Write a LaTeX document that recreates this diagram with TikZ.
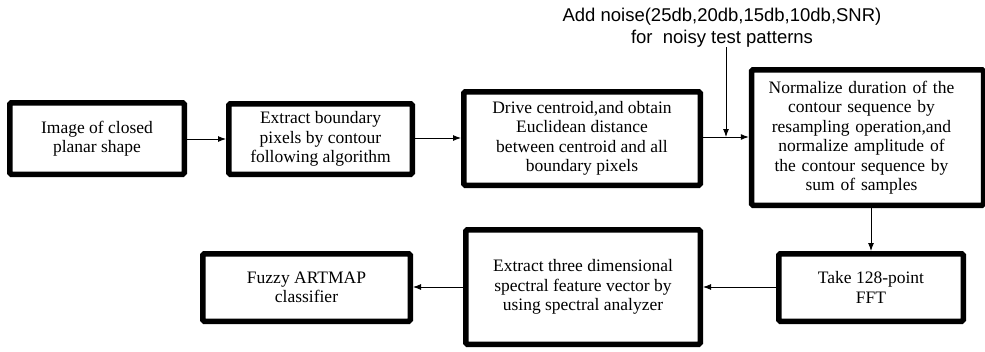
\documentclass[tikz,border=0pt]{standalone}
\usepackage{fontspec}
\setmainfont{Liberation Serif}
\newfontfamily\noisefont{Liberation Sans}
\usetikzlibrary{arrows.meta}
\begin{document}
\begin{tikzpicture}[x=1pt,y=-1pt,
  blockbox/.style={draw, line width=5.5pt, rounded corners=1.5pt, align=center,
    inner sep=0pt, font=\fontsize{17.5}{19.5}\selectfont},
  arr/.style={line width=0.9pt, -{Latex[length=8pt,width=6pt]}}]
\useasboundingbox (0,0) rectangle (985,351);
\node[blockbox, minimum width=174.5pt, minimum height=71.5pt] (b1) at (97,138.5) {Image of closed\\planar shape};
\node[blockbox, minimum width=183.5pt, minimum height=70.5pt] (b2) at (320.5,139) {Extract boundary\\pixels by contour\\following algorithm};
\node[blockbox, minimum width=236.5pt, minimum height=93.5pt] (b3) at (582,138.5) {Drive centroid,and obtain\\Euclidean distance\\between centroid and all\\boundary pixels};
\node[blockbox, minimum width=232pt, minimum height=135.5pt, text width=220pt] (b4) at (867.5,137.5) {\hspace*{-12pt}Normalize duration of the\\\hspace*{-12pt}contour sequence by\\\hspace*{-12pt}resampling operation,and\\\hspace*{-12pt}normalize amplitude of\\\hspace*{-12pt}the contour sequence by\\\hspace*{-12pt}sum of samples};
\node[blockbox, minimum width=184.5pt, minimum height=67.5pt] (b7) at (871,287.5) {Take 128-point\\FFT};
\node[blockbox, minimum width=234.5pt, minimum height=114.5pt] (b6) at (583,287) {Extract three dimensional\\spectral feature vector by\\using spectral analyzer};
\node[blockbox, minimum width=207.5pt, minimum height=67.5pt] (b5) at (306.5,287.5) {Fuzzy ARTMAP\\classifier};
\node[align=center, inner sep=0pt, font=\noisefont\fontsize{18.5}{22}\selectfont] (noise) at (722,28) {Add noise(25db,20db,15db,10db,SNR)\\for\ \ noisy test patterns};
\coordinate (nztop) at (726,47);
\coordinate (nz) at (726,137);
\draw[arr] (b1.east |- 0,139) -- (b2.west |- 0,139);
\draw[arr] (b2.east |- 0,138) -- (b3.west |- 0,138);
\draw[arr] (b3.east |- nz) -- (b4.west |- nz);
\draw[arr] (nztop) -- (nz);
\draw[arr] (b4.south -| b7.north) -- (b7.north);
\draw[arr] (b7.west |- 0,287) -- (b6.east |- 0,287);
\draw[arr] (b6.west |- 0,287) -- (b5.east |- 0,287);
\end{tikzpicture}
\end{document}
